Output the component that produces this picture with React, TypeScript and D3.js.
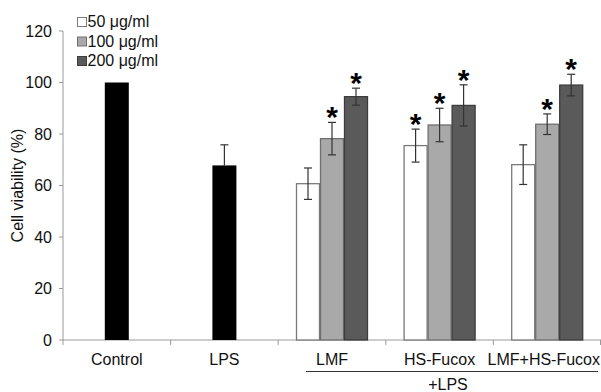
import React from "react";
import * as d3 from "d3";

const categories = ["Control", "LPS", "LMF", "HS-Fucox", "LMF+HS-Fucox"];
const singleCats = ["Control", "LPS"];
const singleValues = [100, 67.8];
const singleErrors = [0, 8];
const groupCats = ["LMF", "HS-Fucox", "LMF+HS-Fucox"];
const seriesNames = ["50 μg/ml", "100 μg/ml", "200 μg/ml"];
const values50 = [60.7, 75.5, 68.1];
const errors50 = [6.1, 6.4, 7.7];
const values100 = [78.2, 83.5, 83.8];
const errors100 = [6.3, 6.5, 4.0];
const values200 = [94.5, 91.1, 99.0];
const errors200 = [3.3, 8.0, 4.2];
const sig50 = [false, true, false];
const sig100 = [true, true, true];
const sig200 = [true, true, true];
const yTicks = [0, 20, 40, 60, 80, 100, 120];

const fills = ["#ffffff", "#a9a9a9", "#5a5a5a"];
const strokes = ["#7a7a7a", "#6f6f6f", "#3c3c3c"];

export default function App() {
  const W = 601, H = 392;
  const left = 63, right = 601, top = 31, bottom = 340;
  const x = d3.scaleBand().domain(categories).range([left, right]).padding(0);
  const y = d3.scaleLinear().domain([0, 120]).range([bottom, top]);
  const inner = d3.scaleBand().domain(seriesNames).range([0, 72]).padding(0);
  const bw = 24;
  const font = "'Liberation Sans', Arial, Helvetica, sans-serif";
  const fs = 16;

  const series = [
    { vals: values50, errs: errors50, sig: sig50 },
    { vals: values100, errs: errors100, sig: sig100 },
    { vals: values200, errs: errors200, sig: sig200 },
  ];

  const errBar = (cx: number, v: number, e: number, key: string) => (
    <g key={key} stroke="#333" strokeWidth={1.2}>
      <line x1={cx} x2={cx} y1={y(v + e)} y2={y(v - e)} />
      <line x1={cx - 4} x2={cx + 4} y1={y(v + e)} y2={y(v + e)} />
      <line x1={cx - 4} x2={cx + 4} y1={y(v - e)} y2={y(v - e)} />
    </g>
  );

  return (
    <svg width={W} height={H} style={{ position: "absolute", left: 0, top: 0 }} fontFamily={font}>
      <rect width={W} height={H} fill="#fff" />
      {/* y axis */}
      <line x1={left} x2={left} y1={top} y2={bottom} stroke="#999" strokeWidth={1} />
      {yTicks.map((t) => (
        <g key={t}>
          <line x1={left - 4} x2={left} y1={y(t)} y2={y(t)} stroke="#999" />
          <text x={left - 11} y={y(t)} dy="0.35em" textAnchor="end" fontSize={fs} fill="#111">
            {t}
          </text>
        </g>
      ))}
      <text
        transform={`translate(23,${(top + bottom) / 2}) rotate(-90)`}
        textAnchor="middle"
        fontSize={fs}
        fill="#111"
      >
        Cell viability (%)
      </text>
      {/* x axis */}
      <line x1={left} x2={right} y1={bottom} y2={bottom} stroke="#999" />
      {categories.map((c) => (
        <line key={c} x1={x(c)!} x2={x(c)!} y1={bottom} y2={bottom + 5} stroke="#999" />
      ))}
      <line x1={right - 0.5} x2={right - 0.5} y1={bottom} y2={bottom + 5} stroke="#999" />
      {/* single bars */}
      {singleCats.map((c, i) => {
        const cx = x(c)! + x.bandwidth() / 2;
        return (
          <g key={c}>
            <rect x={cx - bw / 2} y={y(singleValues[i])} width={bw} height={bottom - y(singleValues[i])} fill="#000" />
            {singleErrors[i] > 0 && (
              <g stroke="#333" strokeWidth={1.2}>
                <line x1={cx} x2={cx} y1={y(singleValues[i] + singleErrors[i])} y2={y(singleValues[i])} />
                <line x1={cx - 4} x2={cx + 4} y1={y(singleValues[i] + singleErrors[i])} y2={y(singleValues[i] + singleErrors[i])} />
              </g>
            )}
          </g>
        );
      })}
      {/* grouped bars */}
      {groupCats.map((c, gi) => {
        const g0 = x(c)! + x.bandwidth() / 2 - 36;
        return (
          <g key={c}>
            {series.map((s, si) => {
              const bx = g0 + inner(seriesNames[si])!;
              const v = s.vals[gi];
              return (
                <rect
                  key={si}
                  x={bx + 0.5}
                  y={y(v)}
                  width={inner.bandwidth() - 1}
                  height={bottom - y(v)}
                  fill={fills[si]}
                  stroke={strokes[si]}
                  strokeWidth={1.3}
                />
              );
            })}
            {series.map((s, si) => {
              const cx = g0 + inner(seriesNames[si])! + inner.bandwidth() / 2;
              const v = s.vals[gi];
              const e = s.errs[gi];
              return (
                <g key={"e" + si}>
                  {errBar(cx, v, e, "eb")}
                  {s.sig[gi] && (
                    <text x={cx} y={y(v + e) + 5} textAnchor="middle" fontSize={30} fontWeight="bold" fill="#000">
                      *
                    </text>
                  )}
                </g>
              );
            })}
          </g>
        );
      })}
      {/* x labels */}
      {categories.map((c) => {
        const cx = x(c)! + x.bandwidth() / 2;
        const isLast = c === "LMF+HS-Fucox";
        return (
          <text key={c} x={isLast ? 600 : cx} y={365} textAnchor={isLast ? "end" : "middle"} fontSize={fs} fill="#111">
            {c}
          </text>
        );
      })}
      <line x1={306} x2={598} y1={371.5} y2={371.5} stroke="#333" strokeWidth={1} />
      <text x={448} y={390} textAnchor="middle" fontSize={fs} fill="#111">
        +LPS
      </text>
      {/* legend */}
      {seriesNames.map((n, i) => (
        <g key={n} transform={`translate(77,${17 + i * 19.5})`}>
          <rect x={0.5} y={0.5} width={9} height={9} fill={fills[i]} stroke={strokes[i]} strokeWidth={1} />
          <text x={10.5} y={10} fontSize={fs} fill="#111">
            {n}
          </text>
        </g>
      ))}
    </svg>
  );
}
